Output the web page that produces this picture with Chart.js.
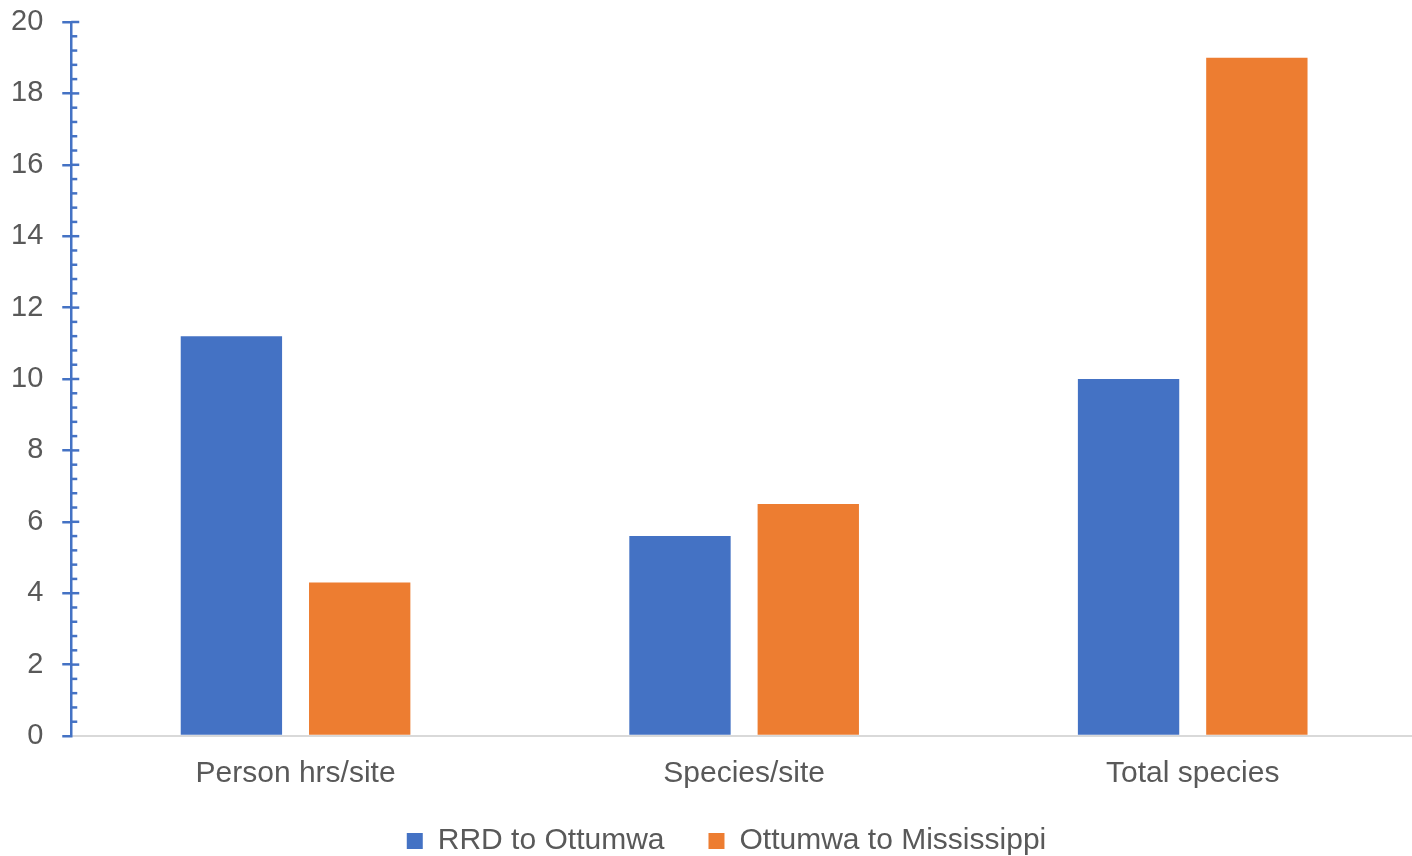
<!DOCTYPE html>
<html>
<head>
<meta charset="utf-8">
<script src="https://cdn.jsdelivr.net/npm/chart.js@4/dist/chart.umd.min.js"></script>
<style>
  html, body { margin: 0; padding: 0; background: #fff; overflow: hidden; }
  /* the category axis runs a few px past the right edge, as in the original */
  #wrap { width: 1417px; height: 856px; }
</style>
</head>
<body>
<div id="wrap"><canvas id="chart"></canvas></div>
<script>
// data
const categories = ["Person hrs/site", "Species/site", "Total species"];
const rrdValues = [11.2, 5.6, 10];
const ottValues = [4.3, 6.5, 19];
const seriesNames = ["RRD to Ottumwa", "Ottumwa to Mississippi"];
const seriesColors = ["#4472C4", "#ED7D31"];

const axisBlue = "#4472C4";

Chart.defaults.font.family = "'Liberation Sans', Arial, sans-serif";
Chart.defaults.font.size = 30;
Chart.defaults.color = "#595959";

// small ticks on the inner side of the y axis (minor every 0.4)
const innerTicks = {
  id: 'innerTicks',
  afterDraw(chart) {
    const y = chart.scales.y;
    const x0 = chart.chartArea.left;
    const ctx = chart.ctx;
    ctx.save();
    ctx.strokeStyle = axisBlue;
    ctx.lineWidth = 2.5;
    for (let i = 1; i <= 50; i++) {
      const py = y.getPixelForValue(i * 0.4);
      const len = (i % 5 === 0) ? 8 : 6;
      ctx.beginPath();
      ctx.moveTo(x0, py);
      ctx.lineTo(x0 + len, py);
      ctx.stroke();
    }
    ctx.restore();
  }
};

// nudge the legend to where the original sits
const legendNudge = {
  id: 'legendNudge',
  afterLayout(chart) {
    chart.legend.top -= 22;
    chart.legend.bottom -= 22;
    chart.legend.left += 22;
    chart.legend.right += 22;
  }
};

let ctx = document.getElementById('chart').getContext('2d');
let chart = new Chart(ctx, {
  type: 'bar',
  data: {
    labels: categories,
    datasets: [{
      label: seriesNames[0],
      data: rrdValues,
      backgroundColor: seriesColors[0],
      categoryPercentage: 0.572,
      barPercentage: 0.79
    }, {
      label: seriesNames[1],
      data: ottValues,
      backgroundColor: seriesColors[1],
      categoryPercentage: 0.572,
      barPercentage: 0.79
    }]
  },
  options: {
    responsive: true,
    maintainAspectRatio: false,
    animation: false,
    layout: {
      padding: { left: -8, right: 0, top: 22, bottom: -32 }
    },
    scales: {
      x: {
        grid: { display: false },
        border: { display: true, color: '#d9d9d9', width: 2 },
        ticks: { padding: 12, color: '#595959' }
      },
      y: {
        min: 0,
        max: 20,
        ticks: { stepSize: 2, padding: 19, color: '#595959', font: { size: 29 } },
        grid: {
          drawOnChartArea: false,
          drawTicks: true,
          tickLength: 9,
          color: axisBlue,
          lineWidth: 2.5
        },
        border: { display: true, color: axisBlue, width: 2.5 },
        afterFit(scale) {
          scale.paddingTop = 15;
          scale.paddingBottom = 15;
        }
      }
    },
    plugins: {
      legend: {
        position: 'bottom',
        labels: {
          boxWidth: 16,
          boxHeight: 16,
          padding: 44,
          color: '#595959'
        }
      },
      tooltip: { enabled: false }
    }
  },
  plugins: [innerTicks, legendNudge]
});
</script>
</body>
</html>
